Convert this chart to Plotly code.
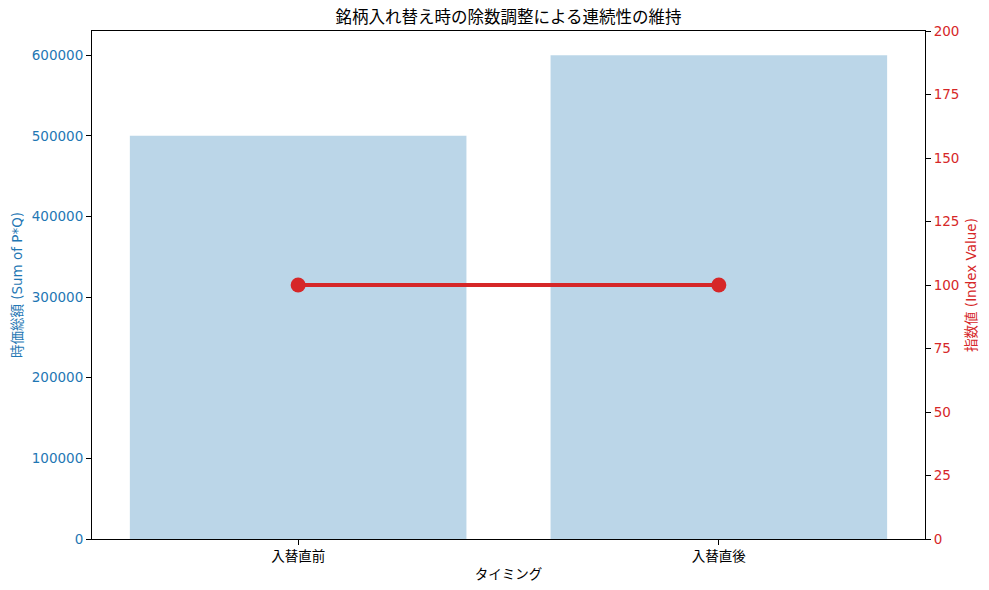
import plotly.graph_objects as go

categories = ["入替直前", "入替直後"]
market_cap = [500000, 600000]
index_value = [100, 100]

FONT = "DejaVu Sans, Noto Sans CJK JP"
BLUE = "#1f77b4"
RED = "#d62728"
W, H = 989, 590
OFF = 8  # page body offset

fig = go.Figure()
fig.add_trace(go.Bar(
    x=categories, y=market_cap, width=0.8,
    marker=dict(color="rgba(31,119,180,0.3)", line=dict(width=0)),
    yaxis="y", showlegend=False,
))
fig.add_trace(go.Scatter(
    x=categories, y=index_value, mode="lines+markers",
    line=dict(color=RED, width=4),
    marker=dict(color=RED, size=15),
    yaxis="y2", showlegend=False,
))

fig.update_layout(
    width=W, height=H,
    margin=dict(l=92 - OFF, r=W - (925 - OFF), t=31 - OFF, b=H - (539 - OFF)),
    plot_bgcolor="white", paper_bgcolor="white",
    font=dict(family=FONT, size=13.5, color="black"),
    title=dict(text="銘柄入れ替え時の除数調整による連続性の維持", x=0.5, xref="paper", xanchor="center",
               y=1 - (17 - OFF) / H, yref="container", yanchor="middle",
               font=dict(size=16.5, color="black")),
    bargap=0.2,
    xaxis=dict(
        type="category", range=[-0.49, 1.49], automargin=False,
        showline=True, linecolor="black", linewidth=1, mirror=True,
        ticks="outside", ticklen=5, tickcolor="black",
        showgrid=False, zeroline=False,
        title=dict(text="タイミング", font=dict(size=13.5), standoff=6),
        tickfont=dict(size=13.5, color="black"),
    ),
    yaxis=dict(
        range=[0, 630000], tickvals=[0, 100000, 200000, 300000, 400000, 500000, 600000],
        ticktext=["0", "100000", "200000", "300000", "400000", "500000", "600000"],
        automargin=False,
        showline=True, linecolor="black", linewidth=1,
        ticks="outside", ticklen=5, tickcolor="black",
        showgrid=False, zeroline=False,
        tickfont=dict(size=13.5, color=BLUE),
        title=dict(text="時価総額 (Sum of P*Q)", font=dict(size=13.5, color=BLUE), standoff=6),
    ),
    yaxis2=dict(
        range=[0, 200], tickvals=list(range(0, 201, 25)),
        overlaying="y", side="right", automargin=False,
        showline=True, linecolor="black", linewidth=1,
        ticks="outside", ticklen=5, tickcolor="black",
        showgrid=False, zeroline=False,
        tickfont=dict(size=13.5, color=RED),
        title=dict(text="指数値 (Index Value)", font=dict(size=13.5, color=RED), standoff=8),
    ),
)

fig.write_html("out.html")
